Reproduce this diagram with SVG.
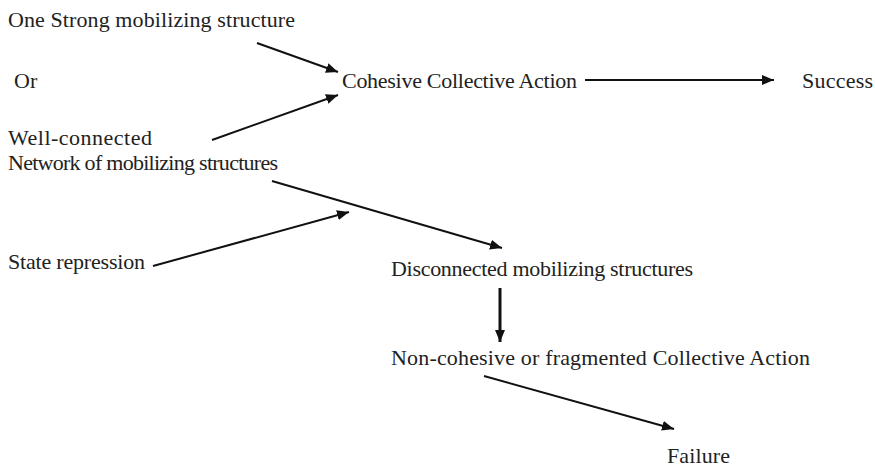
<svg xmlns="http://www.w3.org/2000/svg" width="875" height="469" viewBox="0 0 875 469">
<defs>
<marker id="ah" viewBox="0 0 12 10" refX="12" refY="5" markerWidth="12" markerHeight="10" markerUnits="userSpaceOnUse" orient="auto">
<path d="M0,0 L12,5 L0,10 z" fill="#111"/>
</marker>
<style>
text{font-family:"Liberation Serif","Times New Roman",serif;font-size:22px;fill:#222}
.c line{stroke:#111;stroke-width:2;marker-end:url(#ah)}
.c line.thick{stroke-width:3}
</style>
</defs>
<rect width="875" height="469" fill="#fff"/>
<g id="n-strong"><text x="8" y="27" textLength="287">One Strong mobilizing structure</text></g>
<g id="n-or"><text x="14" y="88">Or</text></g>
<g id="n-network"><text x="8" y="145" textLength="144">Well-connected</text><text x="8" y="170" textLength="270">Network of mobilizing structures</text></g>
<g id="n-cohesive"><text x="342" y="88" textLength="235">Cohesive Collective Action</text></g>
<g id="n-success"><text x="802" y="88" textLength="71">Success</text></g>
<g id="n-state"><text x="8" y="269" textLength="137">State repression</text></g>
<g id="n-disconnected"><text x="391" y="276" textLength="302">Disconnected mobilizing structures</text></g>
<g id="n-noncohesive"><text x="391" y="365" textLength="419">Non-cohesive or fragmented Collective Action</text></g>
<g id="n-failure"><text x="667" y="463" textLength="63">Failure</text></g>
<g class="c" id="connectors">
<line x1="257" y1="43" x2="338" y2="72"/>
<line x1="212" y1="140" x2="338" y2="95"/>
<line x1="585" y1="80" x2="774" y2="80"/>
<line x1="272" y1="181" x2="502" y2="248"/>
<line x1="153" y1="266" x2="349" y2="212"/>
<line class="thick" x1="500" y1="288" x2="500" y2="342"/>
<line x1="484" y1="376" x2="674" y2="429"/>
</g>
</svg>
